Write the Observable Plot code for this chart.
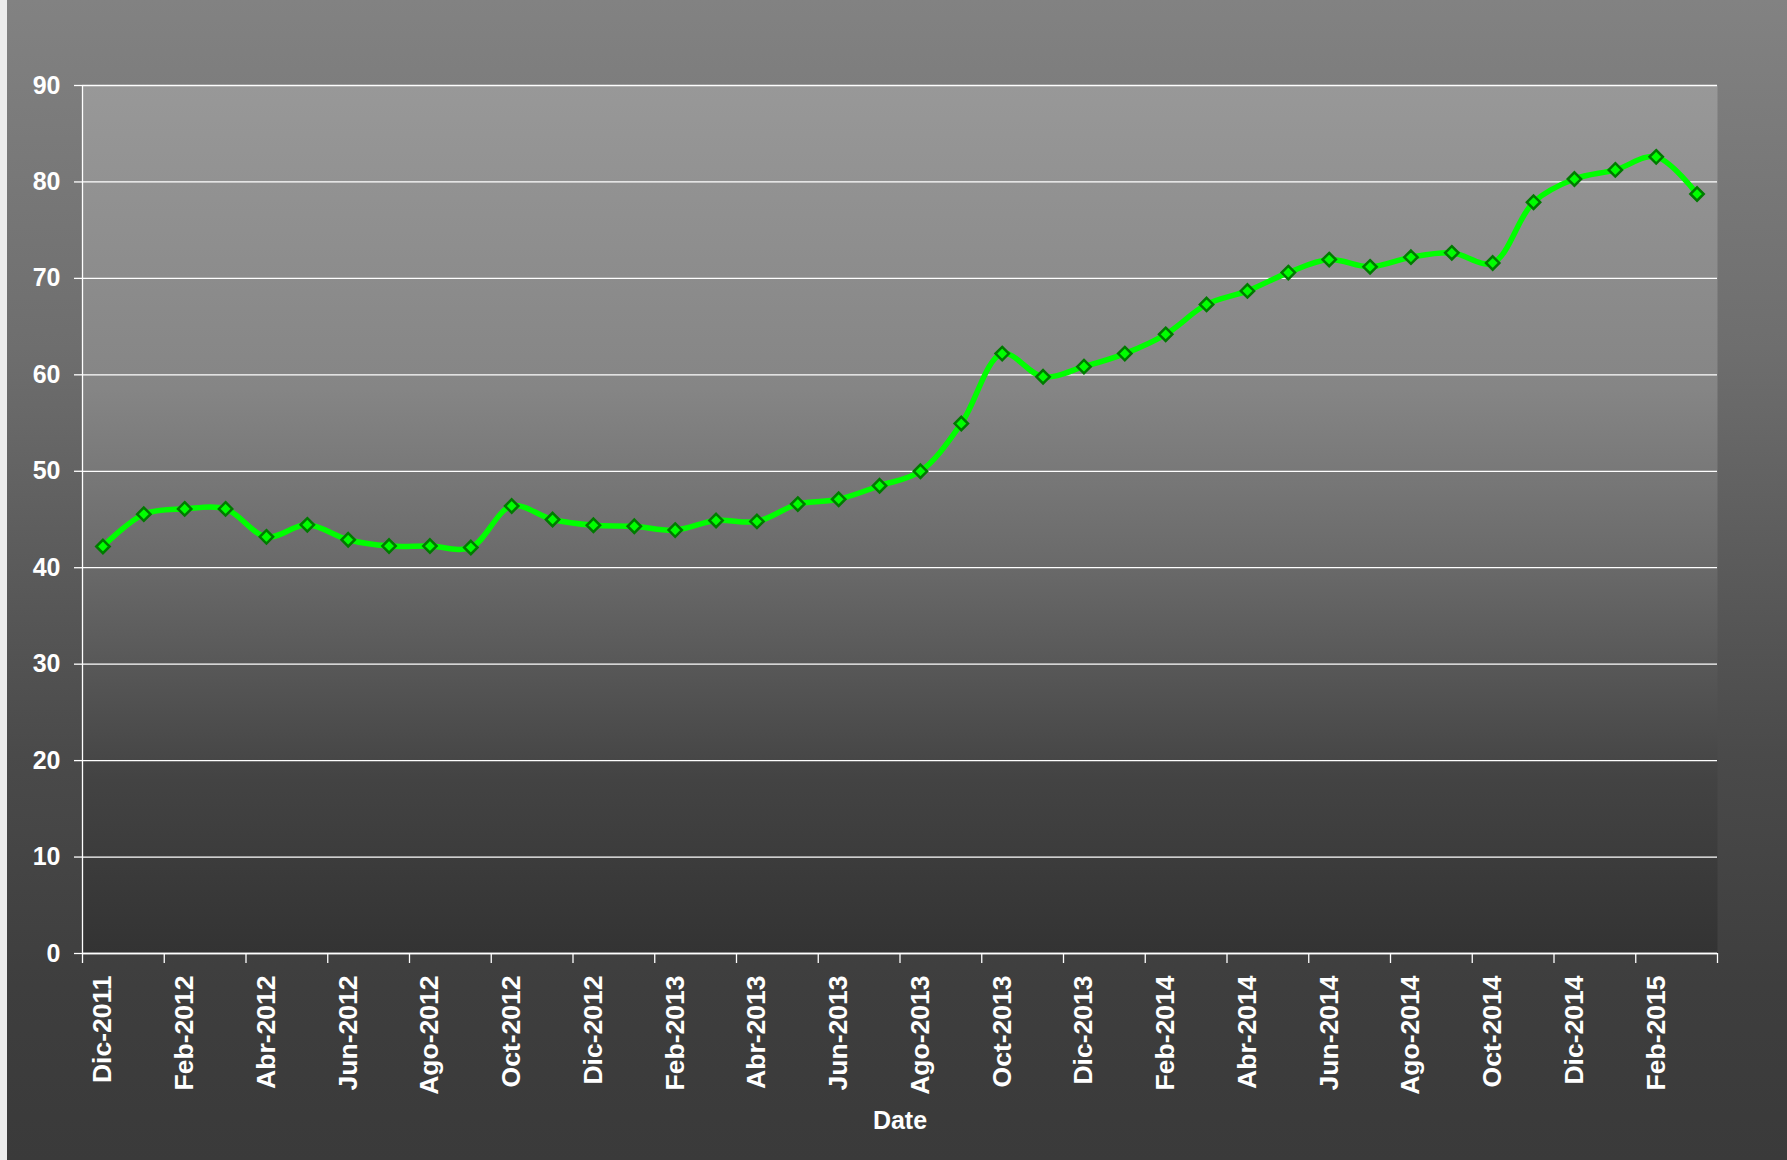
<!DOCTYPE html>
<html>
<head>
<meta charset="utf-8">
<script src="https://cdn.jsdelivr.net/npm/d3@7"></script>
<script src="https://cdn.jsdelivr.net/npm/@observablehq/plot@0.6"></script>
<style>
  html, body { margin: 0; padding: 0; }
  #chart {
    position: relative;
    width: 1787px; height: 1160px;
    background: linear-gradient(to bottom, #828282 0%, #6e6e6e 30%, #4a4a4a 65%, #3e3e3e 85%, #3a3a3a 100%);
    border-left: 7px solid #ececec;
    box-sizing: border-box;
    overflow: hidden;
    font-family: "Liberation Sans", Arial, sans-serif;
  }
  #chart svg { position: absolute; left: -7px; top: 0; max-width: none !important; }
</style>
</head>
<body>
<div id="chart"></div>
<script>
const months = [
  "Dic-2011","Ene-2012","Feb-2012","Mar-2012","Abr-2012","May-2012","Jun-2012","Jul-2012","Ago-2012","Sep-2012","Oct-2012","Nov-2012",
  "Dic-2012","Ene-2013","Feb-2013","Mar-2013","Abr-2013","May-2013","Jun-2013","Jul-2013","Ago-2013","Sep-2013","Oct-2013","Nov-2013",
  "Dic-2013","Ene-2014","Feb-2014","Mar-2014","Abr-2014","May-2014","Jun-2014","Jul-2014","Ago-2014","Sep-2014","Oct-2014","Nov-2014",
  "Dic-2014","Ene-2015","Feb-2015","Mar-2015"
];
const values = [
  42.2, 45.55, 46.1, 46.1, 43.2, 44.45, 42.9, 42.25, 42.25, 42.1, 46.4, 45.0,
  44.4, 44.3, 43.9, 44.9, 44.8, 46.6, 47.1, 48.5, 50.0, 54.95, 62.2, 59.8,
  60.85, 62.2, 64.2, 67.3, 68.7, 70.6, 71.95, 71.2, 72.2, 72.65, 71.6, 77.9,
  80.3, 81.25, 82.6, 78.75
];
const yTicks = [0, 10, 20, 30, 40, 50, 60, 70, 80, 90];
const xAxisTitle = "Date";

const data = months.map((m, i) => ({i, month: m, value: values[i]}));
const labelIdx = months.map((m, i) => i).filter(i => i % 2 === 0);
const boundaryTicks = d3.range(0, months.length + 1, 2).map(k => k - 0.5);

const font = "'Liberation Sans', Arial, sans-serif";

const svg = Plot.plot({
  width: 1787,
  height: 1160,
  marginLeft: 82,
  marginRight: 70,
  marginTop: 85,
  marginBottom: 207,
  style: {background: "transparent", fontFamily: font, color: "white", overflow: "visible", maxWidth: "none"},
  x: {domain: [-0.5, months.length - 0.5]},
  y: {domain: [0, 90]},
  marks: [
    Plot.frame({fill: "url(#plotGrad)", stroke: null}),
    Plot.gridY(yTicks, {stroke: "white", strokeOpacity: 1, strokeWidth: 1.3}),
    Plot.axisY(yTicks, {tickSize: 8, tickPadding: 14, fontSize: 25, fontWeight: "bold", fill: "white", stroke: "white", strokeWidth: 1.3, label: null}),
    Plot.axisX(boundaryTicks, {tickSize: 10, tickFormat: () => "", stroke: "white", strokeWidth: 1.3, label: null}),
    Plot.axisX(labelIdx, {tickSize: 0, tickPadding: 22, tickRotate: -90, tickFormat: i => months[i], fontSize: 26.5, fontWeight: "bold", fill: "white", label: null}),
    Plot.ruleY([0], {stroke: "white", strokeWidth: 1.3}),
    Plot.ruleX([-0.5], {stroke: "white", strokeWidth: 1.3}),
    Plot.line(data, {x: "i", y: "value", curve: "catmull-rom", stroke: "#00ff00", strokeWidth: 5.5}),
    Plot.dot(data, {x: "i", y: "value", symbol: "diamond2", r: 6, fill: "#00ff00", stroke: "#007a00", strokeWidth: 2.5}),
    Plot.text([xAxisTitle], {frameAnchor: "bottom", dy: 175, text: d => d, fontSize: 25, fontWeight: "bold", fill: "white"})
  ]
});

// gradient definition for the plot-area fill
const ns = "http://www.w3.org/2000/svg";
const defs = document.createElementNS(ns, "defs");
const lg = document.createElementNS(ns, "linearGradient");
lg.setAttribute("id", "plotGrad");
lg.setAttribute("x1", "0"); lg.setAttribute("y1", "0");
lg.setAttribute("x2", "0"); lg.setAttribute("y2", "1");
[["0%", "#989898"], ["35%", "#858585"], ["55%", "#6a6a6a"], ["80%", "#434343"], ["100%", "#333333"]].forEach(([o, c]) => {
  const s = document.createElementNS(ns, "stop");
  s.setAttribute("offset", o);
  s.setAttribute("stop-color", c);
  lg.appendChild(s);
});
defs.appendChild(lg);
svg.insertBefore(defs, svg.firstChild);

document.getElementById("chart").appendChild(svg);
</script>
</body>
</html>
